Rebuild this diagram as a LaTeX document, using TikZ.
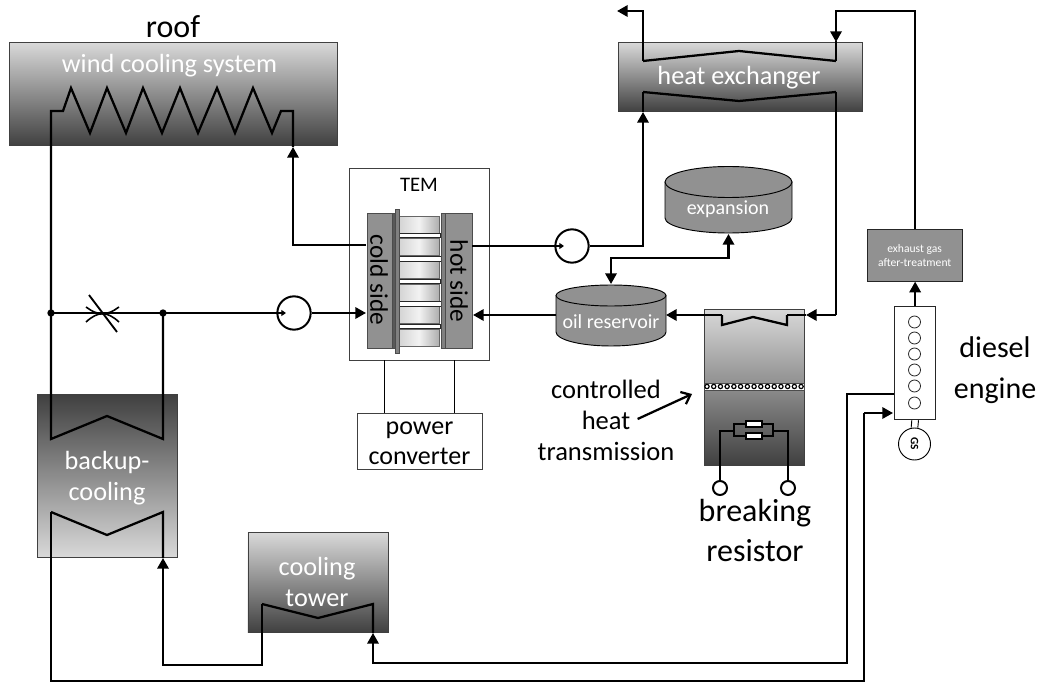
\documentclass[tikz,border=0pt]{standalone}
\usepackage{fontspec}
\setmainfont{Carlito}
\usetikzlibrary{arrows.meta}
\definecolor{gd}{gray}{0.25}
\definecolor{gl}{gray}{0.85}
\definecolor{gm}{gray}{0.57}
\tikzset{
 x=0.75pt,y=-0.75pt,
 pipe/.style={draw=black,line width=1.7pt,line join=miter},
 flow/.style={pipe,-{Triangle[length=8pt,width=8.5pt]}},
 biflow/.style={pipe,{Triangle[length=8pt,width=8.5pt]}-{Triangle[length=8pt,width=8.5pt]}},
 pumpflow/.style={pipe,-{Triangle[length=3.5pt,width=4.5pt]}},
 boxdown/.style={draw=black!75,line width=0.7pt,top color=gl,bottom color=gd,inner sep=0pt,anchor=north west},
 boxup/.style={draw=black!75,line width=0.7pt,top color=gd,bottom color=gl,inner sep=0pt,anchor=north west},
 lab/.style={text=white,align=center,inner sep=0pt},
 blk/.style={text=black,align=center,inner sep=0pt},
 dot/.style={circle,fill=black,inner sep=0pt,minimum size=5.5pt},
 ring/.style={circle,draw=black,line width=1.5pt,fill=white,inner sep=0pt,minimum size=25pt},
 term/.style={circle,draw=black,line width=1.5pt,fill=white,inner sep=0pt,minimum size=10.5pt},
 cyl/.style={draw=black,line width=0.7pt,fill=gm},
 plain/.style={draw=black!75,line width=0.7pt,fill=white,inner sep=0pt,anchor=north west},
 slab/.style={draw=black!70,line width=0.5pt,fill=gm,inner sep=0pt,anchor=north west},
 peltier/.style={draw=black!60,line width=0.4pt,left color=gray!35,right color=gray!65,middle color=white!90!gray,inner sep=0pt,anchor=north west,minimum width=31pt,minimum height=12.5pt},
 strip/.style={draw=black!85,line width=0.6pt,fill=white,inner sep=0pt,anchor=north west},
 resist/.style={draw=black,line width=1.3pt,fill=white,inner sep=0pt,minimum width=11.5pt,minimum height=4.5pt},
 bead/.style={circle,draw=black,line width=0.9pt,fill=white,inner sep=0pt,minimum size=3.2pt},
 bore/.style={circle,draw=black!85,line width=0.6pt,fill=white,inner sep=0pt,minimum size=9pt},
}
\begin{document}
\begin{tikzpicture}
\useasboundingbox (0,0) rectangle (1041,684);
% boxes
\node[boxdown,minimum width=246pt,minimum height=77.5pt] (wind) at (9,42) {};
\node[boxdown,minimum width=183pt,minimum height=52pt] (hx) at (618,42) {};
\node[boxup,minimum width=105pt,minimum height=122pt] (backup) at (37,394) {};
\node[boxdown,minimum width=105.5pt,minimum height=75pt] (tower) at (247.5,532) {};
\node[boxdown,minimum width=75pt,minimum height=117pt] (brake) at (704,309) {};
% TEM
\node[plain,minimum width=105pt,minimum height=144pt] (tem) at (349,168) {};
\node[blk,font=\fontsize{15.5}{18}\selectfont] (temlab) at (419,185) {TEM};
\foreach \yy/\nn in {216/a,238/b,261/c,284/d,306/e,329/f}{
 \node[peltier] (pelt\nn) at (398,\yy) {};
}
\node[strip,minimum width=34pt,minimum height=2.7pt] (stripa) at (395,233.5) {};
\node[strip,minimum width=34pt,minimum height=4pt] (stripb) at (398,255.5) {};
\node[strip,minimum width=34pt,minimum height=2.7pt] (stripc) at (395,279) {};
\node[strip,minimum width=34pt,minimum height=4pt] (stripd) at (398,300.5) {};
\node[strip,minimum width=34pt,minimum height=2.7pt] (stripe) at (395,324) {};
\node[slab,minimum width=19pt,minimum height=101pt] (cold) at (367,213) {};
\node[slab,minimum width=20pt,minimum height=101pt] (hot) at (445,213) {};
\node[slab,fill=black!65,minimum width=2.5pt,minimum height=101pt] (barla) at (392,213) {};
\node[slab,fill=black!50,minimum width=3.5pt,minimum height=108pt] (barlb) at (394.5,209) {};
\node[slab,fill=black!50,minimum width=3pt,minimum height=101pt] (barr) at (441,213) {};
\node[blk,rotate=-90,font=\fontsize{19}{22}\selectfont] (coldlab) at (379,280) {cold side};
\node[blk,rotate=-90,font=\fontsize{19}{22}\selectfont] (hotlab) at (459,281) {hot side};
% converter
\node[plain,minimum width=94pt,minimum height=42pt] (conv) at (357,413) {};
\node[blk,font=\fontsize{19.5}{22.5}\selectfont] (convlab) at (419.5,443) {power\\converter};
\coordinate (tema) at (384.5,360);
\coordinate (temb) at (454.5,360);
\draw[line width=1.3pt] (tema) -- (tema |- conv.north);
\draw[line width=1.3pt] (temb) -- (temb |- conv.north);
% cylinders
\path[cyl] (665,182) -- (665,218) arc[x radius=63.5,y radius=15,start angle=180,end angle=0] -- (792,182) -- cycle;
\draw[cyl] (728.5,182) ellipse[x radius=63.5,y radius=15.5];
\node[lab,font=\fontsize{15}{18}\selectfont] (exp) at (728,209) {expansion};
\path[cyl] (556,296) -- (556,332) arc[x radius=55,y radius=14,start angle=180,end angle=0] -- (666,296) -- cycle;
\draw[cyl] (611,295.5) ellipse[x radius=55,y radius=10.5];
\node[lab,font=\fontsize{15}{18}\selectfont] (oil) at (611,322) {oil reservoir};
% exhaust + engine
\node[slab,draw=black!85,minimum width=71pt,minimum height=39pt,lab,font=\fontsize{8.7}{10.5}\selectfont] (exh) at (867,229) {exhaust gas\\after-treatment};
\node[plain,draw=black!85,minimum width=31pt,minimum height=85pt] (eng) at (894,306) {};
\foreach \yy/\nn in {322/a,338/b,354/c,370/d,386/e,403/f}{
 \node[bore] (bore\nn) at (914.5,\yy) {};
}
\node[circle,draw=black,line width=0.7pt,fill=white,minimum size=24pt,inner sep=0pt] (gs) at (914.5,444) {\rotatebox{-90}{\fontsize{8.5}{9}\selectfont\bfseries GS}};
\draw[line width=0.7pt] ([xshift=-2.5pt]eng.south) -- ([xshift=-2.5pt]gs.north);
\draw[line width=0.7pt] ([xshift=2.5pt]eng.south) -- ([xshift=2.5pt]gs.north);
% ports
\coordinate (jl) at (51,313);
\coordinate (jr) at (163,313);
\coordinate (coldout) at (366,245);
\coordinate (coldin) at (366,313);
\coordinate (hotout) at (472,246);
\coordinate (hotin) at (473,315);
\coordinate (oilout) at (556,315);
\coordinate (oilin) at (666,315);
\coordinate (windin) at (293,147);
\coordinate (hxin) at (643,112);
\coordinate (hxoutl) at (643,61);
\coordinate (hxtopr) at (836,61);
\coordinate (hxbotr) at (836,92);
\coordinate (hxbotl) at (643,92);
\coordinate (brakein) at (806,315);
\coordinate (brakeinl) at (722,315);
\coordinate (brakeinr) at (787,315);
\coordinate (towerl) at (262,604);
\coordinate (towerr) at (373,604);
\coordinate (bklow) at (51,512);
\coordinate (bklowr) at (163,512);
\coordinate (bkin) at (163,558);
\coordinate (towerin) at (373,633);
\coordinate (enga) at (894,394);
\coordinate (engb) at (893,413);
\coordinate (exhtop) at (0,11);
% coils
\draw[pipe] (jl) -- (51,111) -- (63,111) -- (71,88) -- (90,133) -- (107,88) -- (126,133) -- (143,88) -- (162,133) -- (180,88) -- (198,133) -- (217,88) -- (235,133) -- (253,88) -- (272,133) -- (281,111) -- (293,111) -- (windin);
\draw[pipe] (hxoutl) -- (739,51) -- (hxtopr);
\draw[pipe] (hxbotl) -- (739,101) -- (hxbotr);
\draw[pipe] (jl) -- (51,439) -- (107,416) -- (163,439) -- (jr);
\draw[pipe] (bklow) -- (107,535) -- (bklowr) -- (bkin);
\draw[pipe] (towerl) -- (318,618) -- (towerr) -- (towerin);
\draw[pipe] (brakeinl) -- (722,325) -- (753,317) -- (787,325) -- (brakeinr);
% connections
\draw[flow] (coldout) -- (293,245) -- (windin);
\node[ring] (pump1) at (572,246) {};
\draw[pumpflow] (hotout) -- (564,246);
\draw[flow] (pump1.east) -- (643,246) -- (hxin);
\draw[pipe] (hxbotl) -- (hxin);
\draw[flow] (hxoutl) -- (643,11) -- (617,11);
\draw[flow] (exh.north) -- (exh.north |- exhtop) -- (836,11) -- (836,42);
\draw[pipe] (836,41) -- (hxtopr);
\draw[flow] (eng.north) -- (eng.north |- exh.south);
\draw[pipe] (jl) -- (jr);
\node[ring] (pump2) at (294,313) {};
\draw[pumpflow] (jr) -- (286,313);
\draw[flow] (pump2.east) -- (coldin);
\draw[flow] (oilout) -- (hotin);
\draw[flow] (brakeinl) -- (oilin);
\draw[pipe] (hxbotr) -- (836,315);
\draw[flow] (836,315) -- (brakein);
\draw[pipe] (brakein) -- (brakeinr);
\draw[biflow] (611,284) -- (611,258) -- (728.5,258) -- (728.5,234);
\node[dot] (d1) at (jl) {};
\node[dot] (d2) at (jr) {};
% valve
\coordinate (va) at (89,295);
\coordinate (vb) at (117,332);
\draw[line width=1.4pt] (va) -- (vb);
\draw[line width=1.2pt] (86,307) .. controls (98,316) and (107,316) .. (119,307);
\draw[line width=1.2pt] (86,322) .. controls (98,311) and (107,311) .. (119,322);
% lower loops
\draw[flow] (towerl) -- (262,665) -- (163,665) -- (bkin);
\draw[flow] (enga) -- (847,394) -- (847,663) -- (373,663) -- (towerin);
\draw[pipe] (bklow) -- (51,681) -- (864,681) -- (864,413);
\draw[flow] (864,413) -- (engb);
% breaking
\node[draw=black!70,line width=0.4pt,fill=white,minimum width=75pt,minimum height=5pt,inner sep=0pt] (band) at (754,386.5) {};
\foreach \i in {0,...,14}{\node[bead] (bead\i) at (707+\i*6.72,386.5) {};}
\node[term] (t1) at (720,488) {};
\node[term] (t2) at (788,488) {};
\draw[line width=1.6pt] (t1) -- (720,431) -- (734,431);
\draw[line width=1.6pt] (t2) -- (788,431) -- (773,431);
\draw[line width=1.6pt] (734,424) rectangle (773,436);
\node[resist] (r1) at (754,424) {};
\node[resist] (r2) at (754,436) {};
% labels
\node[lab,font=\fontsize{19.7}{24}\selectfont] (w) at (169.5,66) {wind cooling system};
\node[lab,font=\fontsize{19.7}{24}\selectfont] (h) at (739,78) {heat exchanger};
\node[lab,font=\fontsize{19.7}{23.5}\selectfont] (bc) at (107,478) {backup-\\cooling};
\node[lab,font=\fontsize{19.7}{23.5}\selectfont] (ct) at (317,582) {cooling\\tower};
\node[blk,font=\fontsize{24}{28}\selectfont] (roof) at (173,27) {roof};
\node[blk,font=\fontsize{22.5}{31}\selectfont] (die) at (995,370) {diesel\\engine};
\node[blk,font=\fontsize{24}{30}\selectfont] (br) at (755,531) {breaking\\resistor};
\node[blk,font=\fontsize{19.9}{23.2}\selectfont] (ctrl) at (606,420) {controlled\\heat\\transmission};
\coordinate (ctrltip) at (692,394);
\draw[line width=1.7pt,-{Straight Barb[length=6pt,width=10pt]}] (ctrl.east) ++(-37,-1) -- (ctrltip);
\end{tikzpicture}
\end{document}
